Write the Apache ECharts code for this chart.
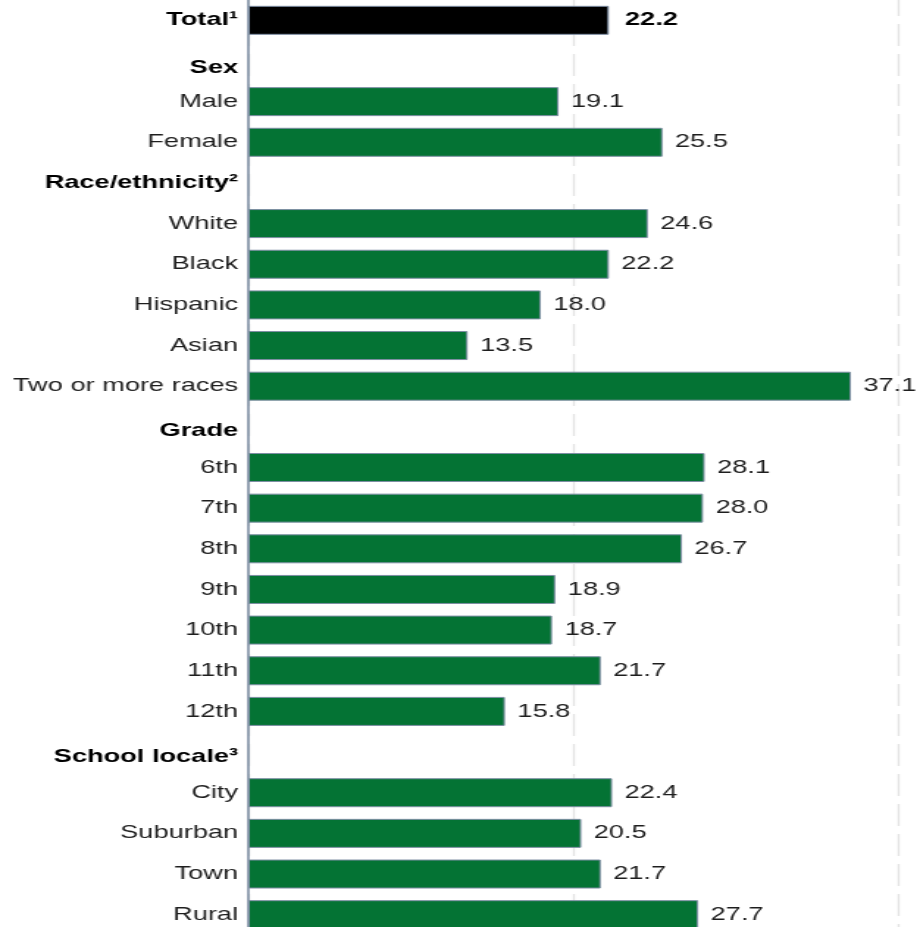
<!DOCTYPE html>
<html>
<head>
<meta charset="utf-8">
<script src="https://cdn.jsdelivr.net/npm/echarts@6/dist/echarts.min.js"></script>
<style>
  html, body { margin: 0; padding: 0; background: #ffffff; }
  #frame { width: 917px; height: 927px; overflow: hidden; position: relative; }
  /* the chart is laid out narrow and widened horizontally, giving the wide lettering;
     it runs a little past the bottom edge, where the last bar is cut off */
  #chart { width: 624px; height: 940px; margin-top: 0px; transform: scaleX(1.4696); transform-origin: 0 0; }
</style>
</head>
<body>
<div id="frame"><div id="chart"></div></div>
<script>
// Row labels, top to bottom (group headings have no bar)
const categories = [
  'Total¹', 'Sex', 'Male', 'Female',
  'Race/ethnicity²', 'White', 'Black', 'Hispanic', 'Asian', 'Two or more races',
  'Grade', '6th', '7th', '8th', '9th', '10th', '11th', '12th',
  'School locale³', 'City', 'Suburban', 'Town', 'Rural'
];
// Group headings drawn in bold
const headings = ['Sex', 'Race/ethnicity²', 'Grade', 'School locale³'];
// Percent values; null where the row is a heading
const percents = [
  22.2, null, 19.1, 25.5,
  null, 24.6, 22.2, 18.0, 13.5, 37.1,
  null, 28.1, 28.0, 26.7, 18.9, 18.7, 21.7, 15.8,
  null, 22.4, 20.5, 21.7, 27.7
];
const totalLabel = 'Total¹';

const FONT = "'Liberation Sans', Arial, Helvetica, sans-serif";
const GREEN = '#047334';
const EDGE = '#7d8ea3';
const LABEL_SIZE = 18.5;

// rich style key per heading (each heading sits slightly lower in its row)
const headingStyle = { 'Sex': 'h1', 'Race/ethnicity²': 'h2', 'Grade': 'h3', 'School locale³': 'h4' };

const seriesData = categories.map((c, i) => {
  const v = percents[i];
  if (v === null) return { value: null };
  if (c === totalLabel) {
    return {
      value: v,
      itemStyle: { color: '#000000' },
      label: { fontWeight: 'bold', color: '#000000', distance: 11 }
    };
  }
  return { value: v };
});

const boldText = (pad) => ({
  fontFamily: FONT, fontSize: LABEL_SIZE, fontWeight: 'bold', color: '#000000', padding: [pad, 0, 0, 0]
});

const chart = echarts.init(document.getElementById('chart'), null, { renderer: 'canvas' });
chart.setOption({
  backgroundColor: '#ffffff',
  animation: false,
  grid: { left: 169, top: 0, width: 442, height: 935, containLabel: false },
  xAxis: {
    type: 'value',
    min: 0, max: 40, interval: 20,
    axisLine: { show: false },
    axisTick: { show: false },
    axisLabel: { show: false },
    splitLine: {
      show: true,
      lineStyle: { color: '#e4e4e4', width: 1.4, type: [22, 8], dashOffset: 6 }
    }
  },
  yAxis: {
    type: 'category',
    inverse: true,
    data: categories,
    axisLine: { show: true, lineStyle: { color: EDGE, width: 1.6 } },
    axisTick: { show: false },
    splitLine: { show: false },
    axisLabel: {
      margin: 7,
      interval: 0,
      formatter: (val) => {
        if (headingStyle[val]) return '{' + headingStyle[val] + '|' + val + '}';
        if (val === totalLabel) return '{t|' + val + '}';
        return '{n|' + val + '}';
      },
      rich: {
        n: { fontFamily: FONT, fontSize: LABEL_SIZE, color: '#1e1e1e' },
        t: boldText(0),
        h1: boldText(14),
        h2: boldText(0),
        h3: boldText(8),
        h4: boldText(10)
      }
    }
  },
  series: [{
    type: 'bar',
    data: seriesData,
    barWidth: 29,
    itemStyle: { color: GREEN, borderColor: EDGE, borderWidth: 1 },
    label: {
      show: true,
      position: 'right',
      distance: 8.5,
      fontFamily: FONT,
      fontSize: LABEL_SIZE,
      color: '#1e1e1e',
      formatter: (p) => (p.value == null ? '' : Number(p.value).toFixed(1))
    }
  }]
});
</script>
</body>
</html>
